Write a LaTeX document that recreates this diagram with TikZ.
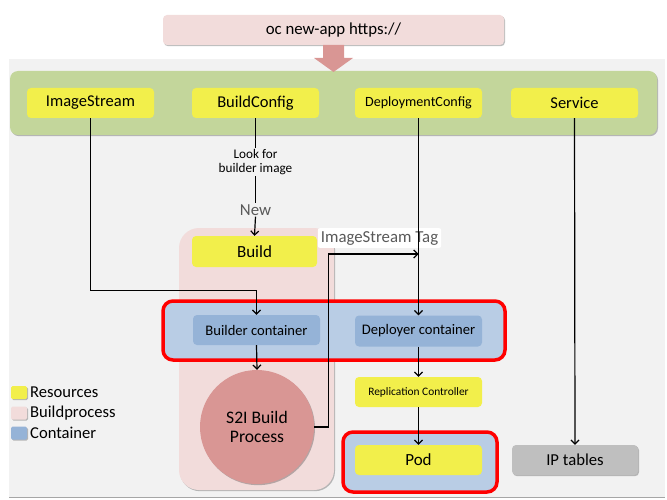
\documentclass[tikz,border=0pt]{standalone}
\usepackage{fontspec}
\setmainfont{Carlito}
\usetikzlibrary{arrows.meta,shadows}

\definecolor{panelgray}{HTML}{F2F2F2}
\definecolor{bandgreen}{HTML}{C3D69B}
\definecolor{resyellow}{HTML}{F2EF4B}
\definecolor{lightpink}{HTML}{F2DCDB}
\definecolor{darkpink}{HTML}{D99694}
\definecolor{contblue}{HTML}{B9CDE5}
\definecolor{innerblue}{HTML}{95B3D7}
\definecolor{ipgray}{HTML}{BFBFBF}
\definecolor{labelgray}{HTML}{595959}
\newcommand\fsz[1]{\fontsize{#1}{#1}\selectfont}

\tikzset{
  softshadow/.style={drop shadow={shadow xshift=1pt,shadow yshift=-1.2pt,opacity=0.25,fill=black}},
  box/.style={rectangle,rounded corners=4pt,inner sep=0pt,minimum width=127pt,minimum height=30pt,font=\fsz{16.5}},
  res/.style={box,fill=resyellow},
  cont/.style={box,fill=innerblue,font=\fsz{14.6}},
  frame/.style={draw=red,line width=3.5pt,fill=contblue,rounded corners=10pt},
  conn/.style={line width=1.2pt,black},
  arr/.style={conn,-{Straight Barb[length=4pt,width=8pt]}},
  legsq/.style={rectangle,rounded corners=1.5pt,minimum width=16pt,minimum height=13pt,inner sep=0pt,softshadow},
  legtxt/.style={anchor=west,inner sep=0pt,font=\fsz{16.6}}
}

\begin{document}
\begin{tikzpicture}[x=1pt,y=-1pt]
\useasboundingbox (0,0) rectangle (667,500);

% work area
\fill[panelgray] (9,59) rectangle (665,498);
\draw[gray!70,line width=1.2pt] (9,497.5) -- (665,497.5);

% command box
\node[box,fill=lightpink,minimum width=341pt,font=\fsz{16.8},softshadow] (cmd) at (333.5,30) {oc new-app https://};

% resource band
\node[rectangle,rounded corners=8pt,fill=bandgreen,minimum width=647pt,minimum height=64pt,softshadow] (band) at (333.5,103) {};
\fill[darkpink] (323,45) -- (344,45) -- (344,58) -- (353,58) -- (333.5,72) -- (314,58) -- (323,58) -- cycle;

\node[res] (imgs) at (90.5,103) {ImageStream};
\node[res] (bcfg) at (255.5,103) {BuildConfig};
\node[res,font=\fsz{14.1}] (dcfg) at (418.5,103) {DeploymentConfig};
\node[res] (svc) at (574.5,103) {Service};

% build process region
\fill[lightpink,rounded corners=20pt,softshadow] (179,228) rectangle (334,490);
\node[res,minimum width=125pt,minimum height=31pt,font=\fsz{17}] (build) at (254.5,251.5) {Build};

% containers
\draw[frame] (163,301) rectangle (505,360);
\node[cont] (builder) at (256.5,330) {Builder container};
\node[cont,minimum height=31pt] (deployer) at (418.5,331) {Deployer container};

% S2I process
\node[circle,fill=darkpink,minimum size=114pt,inner sep=0pt,align=center,font=\fsz{17.6},softshadow] (s2i) at (257,427) {S2I Build\\[2pt]Process};

% deployment chain
\node[res,font=\fsz{11.4}] (repl) at (418.5,392) {Replication Controller};
\draw[frame] (343,432) rectangle (497,492);
\node[res,font=\fsz{17}] (pod) at (418.5,460) {Pod};
\node[box,fill=ipgray,minimum width=126pt,font=\fsz{16.7},softshadow] (ipt) at (575,460) {IP tables};

% labels on the build path
\node[align=center,font=\fsz{13.2},inner sep=1pt] (look) at (255.5,162) {Look for\\[1pt]builder image};
\node[font=\fsz{16.8},text=labelgray,inner sep=1pt] (new) at (255.5,210) {New};
\node[fill=white,rounded corners=2pt,font=\fsz{16.8},text=labelgray,inner sep=3pt] (tag) at (379.5,238) {ImageStream Tag};

% connectors
\coordinate (tagjoin) at (418.5,254);
\draw[conn] (bcfg.south) -- (look.north);
\draw[conn] (look.south) -- (new.north);
\draw[arr] (new.south) -- (build.north);
\draw[arr] (imgs.south) |- ([yshift=24pt]builder.north) -- (builder.north);
\draw[arr] (dcfg.south) -- (deployer.north);
\draw[arr] (builder.south) -- (s2i.north);
\draw[arr] (s2i.east) -| ([xshift=14pt]s2i.east |- tagjoin) -- (tagjoin);
\draw[arr] (deployer.south) -- (repl.north);
\draw[arr] (repl.south) -- (pod.north);
\draw[arr] (svc.south) -- (ipt.north);

% legend
\node[legsq,fill=resyellow] (lg1) at (19,392.5) {};
\node[legtxt] (lt1) at (30,392.5) {Resources};
\node[legsq,fill=lightpink] (lg2) at (19,413) {};
\node[legtxt] (lt2) at (30,413) {Buildprocess};
\node[legsq,fill=innerblue] (lg3) at (19,433) {};
\node[legtxt] (lt3) at (30,433) {Container};
\end{tikzpicture}
\end{document}
